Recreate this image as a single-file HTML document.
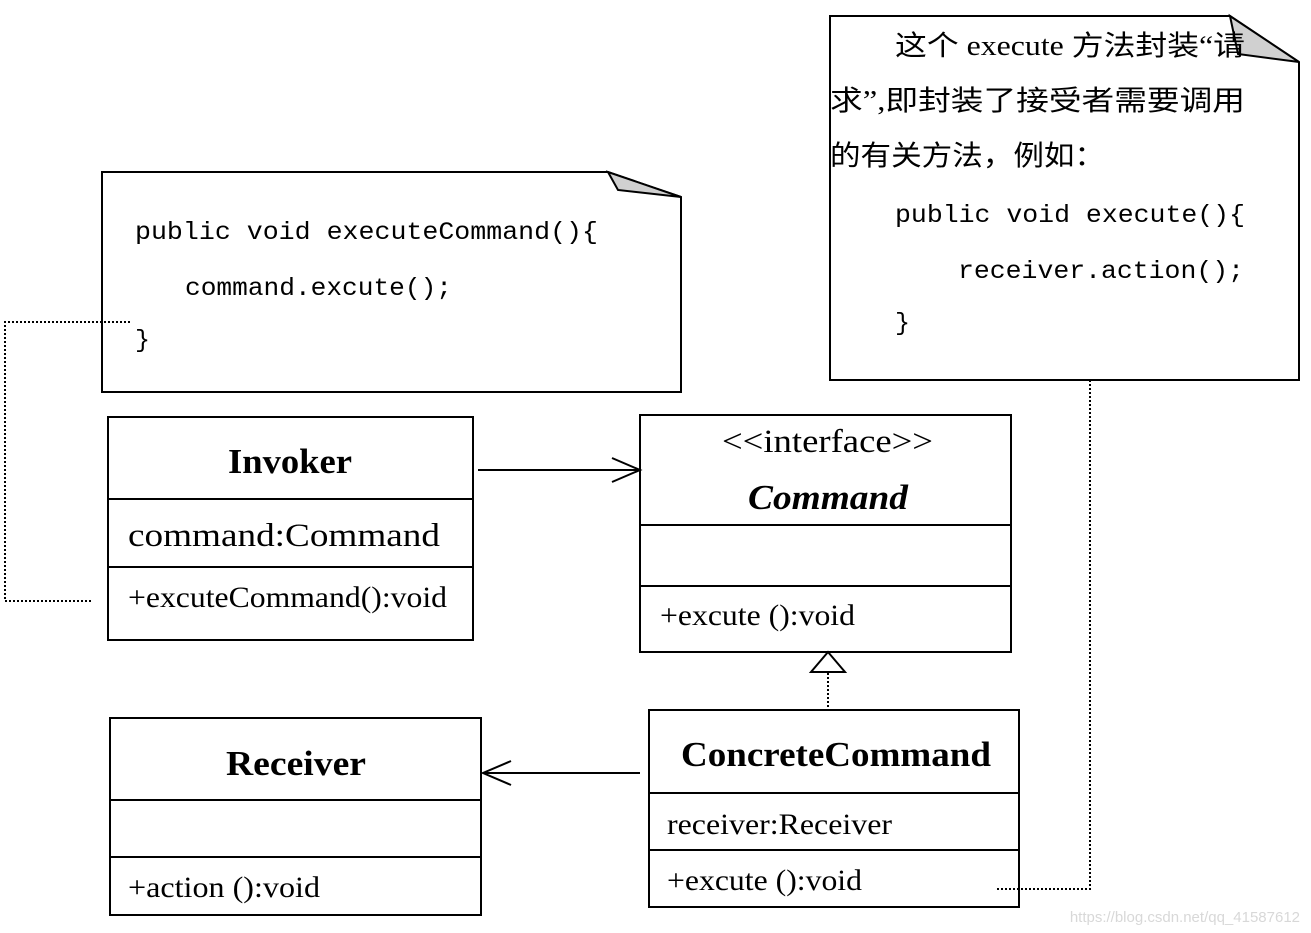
<!DOCTYPE html>
<html><head><meta charset="utf-8"><style>
html,body{margin:0;padding:0;background:#fff;}
svg{display:block}
.cls{font-family:"Liberation Serif",serif;font-weight:bold;font-size:35px;}
.attr{font-family:"Liberation Serif",serif;font-size:33px;}
.attr2{font-family:"Liberation Serif",serif;font-size:30px;}
.code{font-family:"Liberation Mono",monospace;font-size:25px;}
.cn{font-family:"Liberation Serif","Noto Sans CJK SC",sans-serif;font-size:28px;}
</style></head><body>
<svg width="1311" height="933" viewBox="0 0 1311 933" xmlns="http://www.w3.org/2000/svg">
<g fill="none" stroke="#000" stroke-width="2">
<path d="M102,172 H608 L681,197 V392 H102 Z" fill="#fff"/>
<path d="M608,172 L618,190 L681,197 Z" fill="#d0d0d0"/>
<path d="M830,16 H1230 L1299,62 V380 H830 Z" fill="#fff"/>
<path d="M1230,16 L1238,54 L1299,62 Z" fill="#d0d0d0"/>
<rect x="108" y="417" width="365" height="223" fill="#fff"/>
<line x1="108" y1="499" x2="473" y2="499"/>
<line x1="108" y1="567" x2="473" y2="567"/>
<rect x="640" y="415" width="371" height="237" fill="#fff"/>
<line x1="640" y1="525" x2="1011" y2="525"/>
<line x1="640" y1="586" x2="1011" y2="586"/>
<rect x="110" y="718" width="371" height="197" fill="#fff"/>
<line x1="110" y1="800" x2="481" y2="800"/>
<line x1="110" y1="857" x2="481" y2="857"/>
<rect x="649" y="710" width="370" height="197" fill="#fff"/>
<line x1="649" y1="793" x2="1019" y2="793"/>
<line x1="649" y1="850" x2="1019" y2="850"/>
<line x1="478" y1="470" x2="640" y2="470"/>
<polyline points="612,458 640,470 612,482"/>
<line x1="483" y1="773" x2="640" y2="773"/>
<polyline points="511,761 483,773 511,785"/>
<path d="M828,652 L811,672 H845 Z" fill="#fff"/>
</g>
<g fill="none" stroke="#000" stroke-width="2" stroke-dasharray="2,2">
<line x1="828" y1="673" x2="828" y2="708"/>
<polyline points="130,322 5,322 5,601 92,601"/>
<polyline points="997,889 1090,889 1090,381"/>
</g>
<text class="code" x="135" y="239" textLength="463" lengthAdjust="spacingAndGlyphs">public void executeCommand(){</text>
<text class="code" x="185" y="295" textLength="267" lengthAdjust="spacingAndGlyphs">command.excute();</text>
<text class="code" x="135" y="347">}</text>
<text class="cn" x="895" y="55" textLength="350" lengthAdjust="spacingAndGlyphs">这个 execute 方法封装“请</text>
<text class="cn" x="830" y="110" textLength="415" lengthAdjust="spacingAndGlyphs">求”,即封装了接受者需要调用</text>
<text class="cn" x="830" y="165" textLength="275" lengthAdjust="spacingAndGlyphs">的有关方法，例如：</text>
<text class="code" x="895" y="222" textLength="350" lengthAdjust="spacingAndGlyphs">public void execute(){</text>
<text class="code" x="958" y="278" textLength="286" lengthAdjust="spacingAndGlyphs">receiver.action();</text>
<text class="code" x="895" y="330">}</text>
<text class="cls" x="228" y="473" textLength="124" lengthAdjust="spacingAndGlyphs">Invoker</text>
<text class="attr" x="128" y="546" textLength="312" lengthAdjust="spacingAndGlyphs">command:Command</text>
<text class="attr2" x="128" y="607" textLength="319" lengthAdjust="spacingAndGlyphs">+excuteCommand():void</text>
<text class="attr" x="722" y="452" textLength="211" lengthAdjust="spacingAndGlyphs">&lt;&lt;interface&gt;&gt;</text>
<text class="cls" x="748" y="509" font-style="italic" textLength="160" lengthAdjust="spacingAndGlyphs">Command</text>
<text class="attr2" x="660" y="625" textLength="195" lengthAdjust="spacingAndGlyphs">+excute ():void</text>
<text class="cls" x="226" y="775" textLength="140" lengthAdjust="spacingAndGlyphs">Receiver</text>
<text class="attr2" x="128" y="897" textLength="192" lengthAdjust="spacingAndGlyphs">+action ():void</text>
<text class="cls" x="681" y="766" textLength="310" lengthAdjust="spacingAndGlyphs">ConcreteCommand</text>
<text class="attr2" x="667" y="834" textLength="225" lengthAdjust="spacingAndGlyphs">receiver:Receiver</text>
<text class="attr2" x="667" y="890" textLength="195" lengthAdjust="spacingAndGlyphs">+excute ():void</text>
<text x="1300" y="922" text-anchor="end" font-family="Liberation Sans,sans-serif" font-size="15" fill="#d8d8d8">https://blog.csdn.net/qq_41587612</text>
</svg>
</body></html>
